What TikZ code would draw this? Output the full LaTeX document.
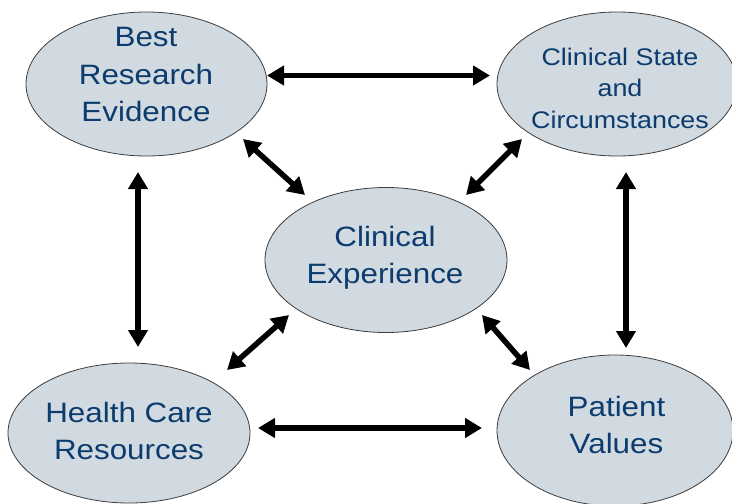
\documentclass[tikz,border=0pt]{standalone}
\usepackage{fontspec}
\setmainfont{Liberation Sans}[FakeStretch=1.12]
\usetikzlibrary{shapes.geometric,arrows.meta}
\definecolor{bubblefill}{RGB}{209,217,225}
\definecolor{bubbleline}{RGB}{60,60,60}
\definecolor{labelblue}{RGB}{12,59,110}
\begin{document}
\begin{tikzpicture}[x=1pt,y=-1pt,
  bubble/.style={ellipse,draw=bubbleline,line width=0.8pt,fill=bubblefill,inner sep=0pt},
  caption/.style={text=labelblue,align=center,inner sep=0pt,font=\fontsize{28}{37.5}\selectfont},
  smallcaption/.style={caption,font=\fontsize{24}{31.5}\selectfont},
  link/.style={line width=5.5pt,{Triangle[length=17pt,width=19pt]}-{Triangle[length=17pt,width=19pt]}}]
\useasboundingbox (0,0) rectangle (732,504);

% the five factors
\node[bubble,minimum width=241pt,minimum height=144pt] (tl) at (146.5,84) {};
\node[bubble,minimum width=240pt,minimum height=144pt] (tr) at (617,84) {};
\node[bubble,minimum width=242pt,minimum height=145pt] (c)  at (386,260) {};
\node[bubble,minimum width=242pt,minimum height=140pt] (bl) at (129,433) {};
\node[bubble,minimum width=236pt,minimum height=151pt] (br) at (615,430.5) {};

\node[caption] (tlt) at (146,75) {Best\\Research\\Evidence};
\node[smallcaption] (trt) at (620,88) {Clinical State\\and\\Circumstances};
\node[caption] (ct) at (385,258) {Clinical\\Experience};
\node[caption] (blt) at (129,431) {Health Care\\Resources};
\node[caption] (brt) at (616.5,425) {Patient\\Values};

% two-way links between the factors
\draw[link] ([shift={(120.5,-8.5)}]tl.center) -- ([shift={(-127,-8.5)}]tr.center);
\draw[link] ([shift={(96.5,55)}]tl.center) -- ([shift={(-81,-65)}]c.center);
\draw[link] ([shift={(-95,55)}]tr.center) -- ([shift={(80,-65)}]c.center);
\draw[link] ([shift={(-8.5,88)}]tl.center) -- ([shift={(9,-86)}]bl.center);
\draw[link] ([shift={(9,88)}]tr.center) -- ([shift={(11,-82.5)}]br.center);
\draw[link] ([shift={(-97,55)}]c.center) -- ([shift={(98,-63)}]bl.center);
\draw[link] ([shift={(96,55)}]c.center) -- ([shift={(-85,-60.5)}]br.center);
\draw[link] ([shift={(129,-5)}]bl.center) -- ([shift={(-133,-2.5)}]br.center);
\end{tikzpicture}
\end{document}
